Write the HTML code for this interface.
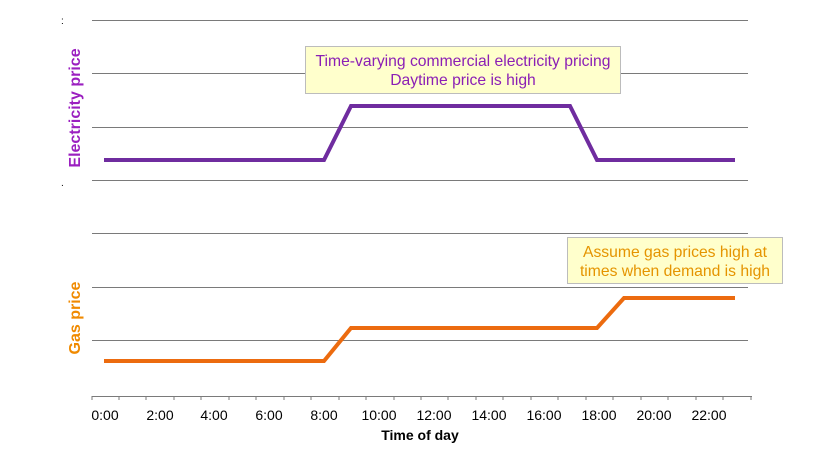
<!DOCTYPE html>
<html><head><style>
body{margin:0;background:#fff;}
svg{display:block;font-family:"Liberation Sans",Arial,sans-serif;}
</style></head><body>
<svg width="838" height="450" viewBox="0 0 838 450">
<g stroke="#7a7a7a" stroke-width="1">
<line x1="92" y1="20.5" x2="748" y2="20.5"/>
<line x1="92" y1="73.5" x2="748" y2="73.5"/>
<line x1="92" y1="127.5" x2="748" y2="127.5"/>
<line x1="92" y1="180.5" x2="748" y2="180.5"/>
<line x1="92" y1="233.5" x2="748" y2="233.5"/>
<line x1="92" y1="287.5" x2="748" y2="287.5"/>
<line x1="92" y1="340.5" x2="748" y2="340.5"/>
<line x1="92" y1="396.5" x2="752" y2="396.5"/>
</g>
<g stroke="#7a7a7a" stroke-width="1">
<line x1="92" y1="396" x2="92" y2="400"/><line x1="119" y1="396" x2="119" y2="400"/><line x1="146" y1="396" x2="146" y2="400"/><line x1="174" y1="396" x2="174" y2="400"/><line x1="201" y1="396" x2="201" y2="400"/><line x1="229" y1="396" x2="229" y2="400"/><line x1="256" y1="396" x2="256" y2="400"/><line x1="284" y1="396" x2="284" y2="400"/><line x1="311" y1="396" x2="311" y2="400"/><line x1="339" y1="396" x2="339" y2="400"/><line x1="366" y1="396" x2="366" y2="400"/><line x1="394" y1="396" x2="394" y2="400"/><line x1="421" y1="396" x2="421" y2="400"/><line x1="448" y1="396" x2="448" y2="400"/><line x1="476" y1="396" x2="476" y2="400"/><line x1="503" y1="396" x2="503" y2="400"/><line x1="531" y1="396" x2="531" y2="400"/><line x1="558" y1="396" x2="558" y2="400"/><line x1="586" y1="396" x2="586" y2="400"/><line x1="613" y1="396" x2="613" y2="400"/><line x1="641" y1="396" x2="641" y2="400"/><line x1="668" y1="396" x2="668" y2="400"/><line x1="696" y1="396" x2="696" y2="400"/><line x1="723" y1="396" x2="723" y2="400"/><line x1="751" y1="396" x2="751" y2="400"/>
</g>
<g font-size="14" fill="#000" text-anchor="middle">
<text x="105" y="420">0:00</text><text x="160" y="420">2:00</text><text x="214" y="420">4:00</text><text x="269" y="420">6:00</text><text x="324" y="420">8:00</text><text x="379" y="420">10:00</text><text x="434" y="420">12:00</text><text x="489" y="420">14:00</text><text x="544" y="420">16:00</text><text x="599" y="420">18:00</text><text x="654" y="420">20:00</text><text x="709" y="420">22:00</text>
</g>
<text x="420" y="440" font-size="14" font-weight="bold" text-anchor="middle">Time of day</text>
<text x="0" y="0" transform="translate(80,108) rotate(-90)" font-size="16" font-weight="bold" fill="#9b1fc0" text-anchor="middle">Electricity price</text>
<text x="0" y="0" transform="translate(80,318) rotate(-90)" font-size="16" font-weight="bold" fill="#f08a00" text-anchor="middle">Gas price</text>
<text x="61" y="24" font-size="10">:</text>
<text x="61" y="186" font-size="10">.</text>
<polyline points="104,160 324,160 351,106 570,106 597,160 735,160" fill="none" stroke="#6f2c9f" stroke-width="4"/>
<polyline points="104,361 324,361 351,328 597,328 624,298 735,298" fill="none" stroke="#ec6b0f" stroke-width="4"/>
<rect x="305.5" y="46.5" width="315" height="47" fill="#ffffcc" stroke="#bcbcbc"/>
<text x="463" y="66" font-size="15.7" fill="#8b1fb5" text-anchor="middle">Time-varying commercial electricity pricing</text>
<text x="463" y="85" font-size="15.7" fill="#8b1fb5" text-anchor="middle">Daytime price is high</text>
<rect x="567.5" y="237.5" width="215" height="46" fill="#ffffcc" stroke="#bcbcbc"/>
<text x="675" y="257" font-size="15.7" fill="#e59400" text-anchor="middle">Assume gas prices high at</text>
<text x="675" y="276" font-size="15.7" fill="#e59400" text-anchor="middle">times when demand is high</text>
</svg>
</body></html>
